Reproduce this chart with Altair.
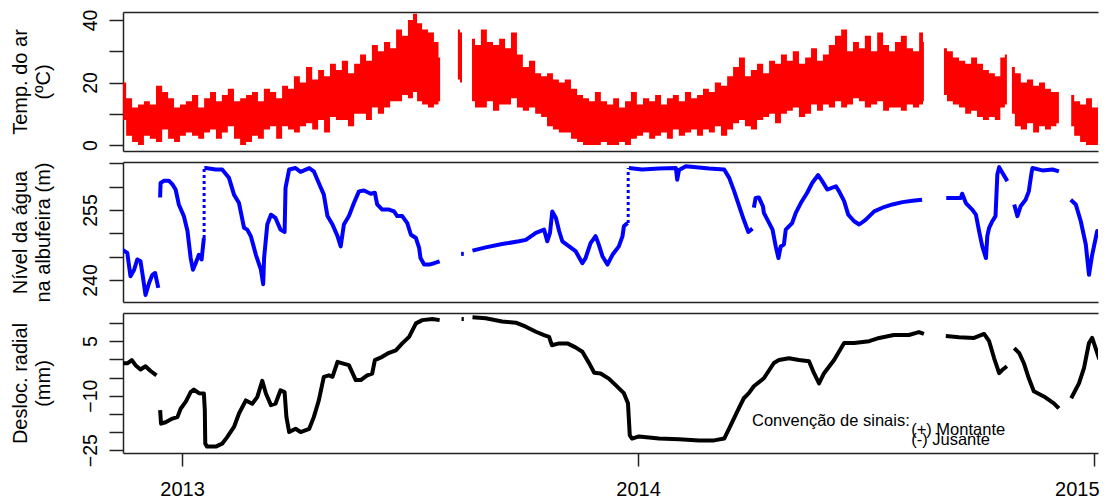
import altair as alt
import pandas as pd

FONT = "Liberation Sans"

# ---------------- data (time in decimal years) ----------------
temp_year = [2012.871, 2012.884, 2012.897, 2012.910, 2012.923, 2012.936, 2012.950, 2012.963, 2012.976, 2012.989,
             2013.002, 2013.015, 2013.029, 2013.042, 2013.055, 2013.068, 2013.081, 2013.094, 2013.107, 2013.121,
             2013.134, 2013.147, 2013.160, 2013.173, 2013.186, 2013.200, 2013.213, 2013.226, 2013.239, 2013.252,
             2013.265, 2013.279, 2013.292, 2013.305, 2013.318, 2013.331, 2013.344, 2013.357, 2013.371, 2013.384,
             2013.397, 2013.410, 2013.423, 2013.436, 2013.450, 2013.463, 2013.476, 2013.489, 2013.502, 2013.511,
             2013.520, 2013.533, 2013.546, 2013.559, 2013.566,
             2013.605, 2013.614,
             2013.636, 2013.649, 2013.662, 2013.675, 2013.689, 2013.702, 2013.715, 2013.728, 2013.741, 2013.754,
             2013.768, 2013.781, 2013.794, 2013.807, 2013.820, 2013.833, 2013.846, 2013.860, 2013.873, 2013.886,
             2013.899, 2013.912, 2013.925, 2013.939, 2013.952, 2013.965, 2013.978, 2013.991, 2014.004, 2014.018,
             2014.031, 2014.044, 2014.057, 2014.070, 2014.083, 2014.096, 2014.110, 2014.123, 2014.136, 2014.149,
             2014.162, 2014.175, 2014.189, 2014.202, 2014.215, 2014.228, 2014.241, 2014.254, 2014.268, 2014.281,
             2014.294, 2014.307, 2014.320, 2014.333, 2014.346, 2014.360, 2014.373, 2014.386, 2014.399, 2014.412,
             2014.425, 2014.439, 2014.452, 2014.465, 2014.478, 2014.491, 2014.504, 2014.518, 2014.531, 2014.544,
             2014.557, 2014.570, 2014.583, 2014.596, 2014.610, 2014.623, 2014.627,
             2014.671, 2014.684, 2014.697, 2014.711, 2014.724, 2014.737, 2014.750, 2014.763, 2014.776, 2014.789,
             2014.800, 2014.809,
             2014.820, 2014.833, 2014.846, 2014.860, 2014.873, 2014.886, 2014.899, 2014.912, 2014.923,
             2014.950, 2014.963, 2014.976, 2014.989, 2015.002, 2015.015, 2015.029, 2015.044]
temp_hi = [20, 15, 12, 13, 14, 13, 19, 17, 15, 12,
           13, 14, 16, 12, 15, 17, 14, 16, 18, 14,
           15, 16, 17, 14, 18, 17, 15, 19, 18, 22,
           20, 25, 21, 24, 22, 26, 24, 27, 23, 26,
           29, 27, 32, 30, 33, 31, 37, 35, 40, 42,
           39, 37, 36, 33, 28,
           37, 36,
           34, 32, 37, 33, 32, 34, 31, 36, 29, 25,
           27, 23, 22, 23, 21, 20, 21, 18, 16, 15,
           14, 17, 14, 13, 15, 12, 14, 17, 13, 15,
           14, 16, 13, 15, 16, 14, 17, 15, 16, 18,
           17, 20, 19, 22, 25, 28, 22, 24, 26, 23,
           27, 26, 29, 27, 30, 26, 28, 31, 27, 29,
           32, 35, 37, 30, 33, 31, 35, 30, 36, 32,
           30, 33, 35, 31, 30, 36, 33,
           31, 30, 28, 27, 26, 28, 26, 24, 23, 22,
           28, 29,
           25, 23, 20, 21, 19, 20, 18, 17, 17,
           16, 14, 13, 15, 12, 14, 12, 13]
temp_lo = [8, 3, 1, 0, 3, 2, 1, 5, 2, 1,
           3, 4, 3, 2, 4, 5, 2, 4, 6, 2,
           0, 1, 3, 2, 5, 6, 2, 6, 5, 4,
           6, 7, 5, 8, 4, 9, 8, 8, 6, 10,
           10, 8, 12, 10, 12, 14, 14, 16, 15, 17,
           14, 13, 12, 13, 14,
           21, 20,
           14, 12, 12, 14, 11, 13, 13, 15, 12, 11,
           12, 10, 9, 6, 5, 4, 4, 2, 1, 0,
           0, 0, 1, 0, 0, 1, 0, 2, 3, 4,
           2, 3, 4, 2, 5, 3, 4, 5, 3, 5,
           4, 6, 3, 5, 7, 8, 6, 5, 8, 9,
           10, 7, 10, 11, 12, 9, 10, 13, 11, 13,
           12, 14, 12, 13, 15, 14, 12, 13, 14, 11,
           12, 12, 11, 13, 12, 13, 14,
           16, 14, 13, 12, 10, 11, 9, 8, 9, 8,
           12, 13,
           10, 6, 5, 7, 4, 6, 5, 6, 7,
           6, 3, 1, 0, 0, 1, 0, 1]
temp_breaks = [2013.590, 2013.625, 2014.650, 2014.8145, 2014.940]

lev_year = [2012.869, 2012.880, 2012.887, 2012.895, 2012.902, 2012.909, 2012.913, 2012.920, 2012.928, 2012.935,
            2012.941, 2012.948,
            2012.952, 2012.953, 2012.961, 2012.971, 2012.979, 2012.986, 2012.993, 2013.004, 2013.012, 2013.019,
            2013.024, 2013.030, 2013.037, 2013.043, 2013.048, 2013.049, 2013.052, 2013.074, 2013.088, 2013.103,
            2013.114, 2013.125, 2013.136, 2013.143, 2013.151, 2013.162, 2013.173, 2013.178, 2013.180, 2013.187,
            2013.195, 2013.205, 2013.216, 2013.225, 2013.227, 2013.235, 2013.249, 2013.260, 2013.279, 2013.289,
            2013.300, 2013.311, 2013.319, 2013.330, 2013.341, 2013.348, 2013.355, 2013.366, 2013.377, 2013.388,
            2013.399, 2013.414, 2013.423, 2013.428, 2013.439, 2013.454, 2013.465, 2013.472, 2013.483, 2013.494,
            2013.502, 2013.513, 2013.520, 2013.523, 2013.531, 2013.542, 2013.553, 2013.565,
            2013.612, 2013.618,
            2013.637, 2013.666, 2013.702, 2013.739, 2013.754, 2013.776, 2013.794, 2013.801, 2013.807, 2013.812,
            2013.820, 2013.827, 2013.834, 2013.849, 2013.863, 2013.878, 2013.885, 2013.896, 2013.907, 2013.914,
            2013.922, 2013.933, 2013.944, 2013.958, 2013.966, 2013.969, 2013.977, 2013.980, 2014.009,
            2014.046, 2014.083, 2014.086, 2014.090, 2014.105, 2014.156, 2014.189, 2014.200, 2014.211, 2014.222,
            2014.232, 2014.242, 2014.251,
            2014.254, 2014.258, 2014.265, 2014.274, 2014.276, 2014.284, 2014.295, 2014.302, 2014.308, 2014.313,
            2014.320, 2014.324, 2014.338, 2014.346, 2014.357, 2014.371, 2014.382, 2014.395, 2014.404, 2014.415,
            2014.434, 2014.441, 2014.452, 2014.461, 2014.474, 2014.485, 2014.499, 2014.518, 2014.536, 2014.558,
            2014.580, 2014.602, 2014.623,
            2014.676, 2014.708, 2014.711, 2014.719, 2014.733, 2014.741, 2014.748, 2014.755, 2014.763, 2014.766,
            2014.770, 2014.777, 2014.784, 2014.788, 2014.792, 2014.799, 2014.810,
            2014.825, 2014.832, 2014.839, 2014.850, 2014.857, 2014.863, 2014.865, 2014.887, 2014.909, 2014.923,
            2014.949, 2014.960, 2014.971, 2014.982, 2014.989, 2014.996, 2015.007, 2015.018, 2015.029, 2015.033,
            2015.045]
lev_val = [246.5, 245.8, 240.8, 242.2, 244.4, 244.0, 241.5, 236.8, 239.4, 241.1,
           241.5, 238.3,
           257.7, 260.8, 261.3, 261.3, 260.5, 259.4, 256.2, 253.7, 250.5, 244.7,
           242.2, 243.6, 245.4, 244.4, 249.0, 264.0, 264.0, 263.7, 263.7, 261.9,
           258.3, 256.5, 251.2, 250.8, 249.4, 245.4, 242.2, 239.1, 244.7, 251.9,
           254.0, 253.3, 250.8, 250.3, 259.7, 263.7, 264.0, 263.2, 264.0, 263.3,
           260.8, 258.3, 253.7, 251.9, 249.4, 247.2, 251.9, 253.7, 256.5, 259.0,
           259.2, 258.5, 258.7, 256.2, 255.1, 255.1, 254.7, 253.7, 253.7, 252.2,
           249.7, 249.0, 246.9, 244.7, 243.3, 243.3, 243.6, 244.0,
           245.6, 245.6,
           246.3, 247.0, 247.7, 248.3, 248.6, 250.1, 250.8, 248.3, 250.1, 254.7,
           253.3, 250.5, 248.3, 247.2, 246.2, 243.6, 244.7, 247.9, 249.4, 247.6,
           245.1, 243.3, 245.4, 247.2, 249.4, 251.5, 252.2, 264.0, 263.7,
           263.9, 264.0, 261.5, 263.6, 264.4, 263.9, 263.7, 261.9, 259.0, 255.8,
           252.9, 250.3, 251.0,
           255.5, 257.6, 257.7, 255.8, 254.4, 252.9, 250.8, 247.2, 244.7, 247.2,
           247.6, 250.8, 252.2, 254.4, 256.5, 258.7, 260.8, 262.5, 261.2, 259.4,
           260.1, 259.0, 256.9, 254.0, 252.6, 251.9, 252.9, 254.7, 255.5, 256.2,
           256.7, 257.0, 257.2,
           257.6, 257.6, 258.5, 256.5, 255.1, 254.0, 250.5, 247.2, 244.7, 249.4,
           251.2, 252.6, 253.7, 262.6, 264.2, 263.0, 261.2,
           256.2, 253.7, 255.8, 257.2, 259.0, 263.0, 264.0, 263.5, 263.7, 263.3,
           257.2, 256.2, 252.6, 247.6, 241.1, 245.4, 250.5, 248.3, 244.7, 243.3,
           244.0]
lev_breaks = [2012.950, 2013.0485, 2013.590, 2013.630, 2013.9785, 2014.2525, 2014.650, 2014.818, 2014.940]

# fast filling episodes drawn as sparse (dotted) points in the original
jump_year = [2013.0485, 2013.9785]
jump_lo = [249.0, 252.2]
jump_hi = [264.0, 264.0]

dsp_year = [2012.869, 2012.880, 2012.890, 2012.898, 2012.909, 2012.920, 2012.931, 2012.944,
            2012.952, 2012.954, 2012.964, 2012.979, 2012.990, 2012.997, 2013.008, 2013.019, 2013.026, 2013.037,
            2013.048, 2013.050, 2013.051, 2013.055, 2013.074, 2013.088, 2013.099, 2013.114, 2013.125, 2013.140,
            2013.154, 2013.165, 2013.176, 2013.184, 2013.195, 2013.205, 2013.216, 2013.225, 2013.229, 2013.235,
            2013.249, 2013.260, 2013.279, 2013.289, 2013.300, 2013.311, 2013.322, 2013.330, 2013.341, 2013.352,
            2013.366, 2013.381, 2013.392, 2013.406, 2013.417, 2013.423, 2013.439, 2013.454, 2013.469, 2013.483,
            2013.498, 2013.513, 2013.527, 2013.549, 2013.565,
            2013.613, 2013.618,
            2013.637, 2013.666, 2013.702, 2013.732, 2013.754, 2013.776, 2013.794, 2013.805, 2013.811, 2013.827,
            2013.845, 2013.863, 2013.878, 2013.893, 2013.904, 2013.918, 2013.936, 2013.951, 2013.969, 2013.978,
            2013.982, 2013.987, 2014.002, 2014.046, 2014.090, 2014.134, 2014.167, 2014.189, 2014.200, 2014.221,
            2014.232, 2014.243, 2014.254, 2014.276, 2014.298, 2014.309, 2014.331, 2014.353, 2014.375, 2014.386,
            2014.397, 2014.408, 2014.430, 2014.452, 2014.474, 2014.507, 2014.529, 2014.561, 2014.594, 2014.616,
            2014.627,
            2014.675, 2014.704, 2014.737, 2014.759, 2014.770, 2014.781, 2014.792, 2014.798, 2014.809,
            2014.825, 2014.836, 2014.846, 2014.857, 2014.868, 2014.890, 2014.912, 2014.923,
            2014.950, 2014.967, 2014.978, 2014.989, 2014.996, 2015.011, 2015.022, 2015.037]
dsp_val = [-1.1, -1.1, -0.2, -1.6, -2.8, -1.9, -3.2, -4.4,
           -14.0, -17.7, -17.3, -16.3, -15.9, -13.6, -11.7, -9.0, -8.3, -9.3,
           -9.4, -14.0, -23.2, -24.0, -24.0, -23.2, -21.4, -18.6, -14.9, -11.3,
           -12.2, -10.4, -5.9, -9.4, -12.6, -12.2, -8.5, -9.0, -15.9, -20.0,
           -19.1, -20.0, -19.1, -15.9, -11.3, -4.8, -4.4, -4.8, -0.7, -1.1,
           -1.6, -5.7, -5.7, -4.4, -3.9, -0.2, 0.7, 1.8, 2.5, 4.4,
           6.2, 9.9, 10.8, 11.1, 10.8,
           11.1, 11.1,
           11.6, 11.3, 10.4, 10.1, 9.0, 7.6, 6.7, 6.2, 3.9, 4.4,
           4.4, 3.3, 2.1, -1.1, -3.7, -3.9, -5.3, -7.1, -9.3, -12.1,
           -20.9, -21.8, -21.2, -21.8, -22.0, -22.3, -22.3, -21.8, -19.0, -13.5,
           -10.7, -9.3, -7.4, -5.2, -1.0, -0.2, 0.3, -0.2, -0.5, -3.8,
           -6.6, -3.8, -0.2, 4.5, 4.5, 5.0, 5.9, 6.7, 6.7, 7.5,
           7.0,
           6.4, 6.1, 5.9, 7.0, 5.0, 0.3, -3.8, -3.0, -1.9,
           3.1, 1.7, -1.0, -5.2, -8.8, -10.2, -12.1, -13.5,
           -10.7, -6.6, -2.4, 4.5, 5.9, 0.3, 1.2, 1.7]
dsp_breaks = [2012.950, 2013.590, 2013.630, 2014.650, 2014.818, 2014.940]

note_year = [2014.250, 2014.599, 2014.599]
note_val = [-18.45, -20.9, -23.7]
note_text = ["Convenção de sinais:", "(+) Montante", "(-) Jusante"]


def seg_of(years, breaks):
    return [sum(1 for b in breaks if y > b) for y in years]


df_t = pd.DataFrame({"ano": temp_year, "hi": temp_hi, "lo": temp_lo,
                     "seg": seg_of(temp_year, temp_breaks)})
df_l = pd.DataFrame({"ano": lev_year, "nivel": lev_val, "seg": seg_of(lev_year, lev_breaks)})
df_l["ordem"] = range(len(df_l))
df_j = pd.DataFrame({"ano": jump_year, "nivel": jump_lo, "hi": jump_hi})
df_d = pd.DataFrame({"ano": dsp_year, "desl": dsp_val, "seg": seg_of(dsp_year, dsp_breaks)})
df_d["ordem"] = range(len(df_d))
df_n = pd.DataFrame({"ano": note_year, "desl": note_val, "txt": note_text})

# ---------------- layout ----------------
X0 = 2012.8706
W = 975
X1 = X0 + W / 456.0
BORDER = "#222222"
xs = alt.Scale(domain=[X0, X1], nice=False, zero=False)


def yaxis(values, expr, title):
    return alt.Axis(values=values, labelExpr=expr, title=title,
                    labelAngle=270, labelAlign="center", labelBaseline="alphabetic",
                    labelPadding=12.5, tickSize=14, titleX=-97, titleAngle=270,
                    titleBaseline="alphabetic", titleLineHeight=23, labelOverlap=False,
                    domain=True, domainColor=BORDER, domainWidth=1.5)


plain_bottom = alt.Axis(orient="bottom", labels=False, ticks=False, title=None,
                        domain=True, domainColor=BORDER, domainWidth=1.5)
plain_top = alt.Axis(orient="top", labels=False, ticks=False, title=None,
                     domain=True, domainColor=BORDER, domainWidth=1.5)


def top_border(df):
    return alt.Chart(df).mark_rule(opacity=0, clip=True).encode(
        x=alt.X("ano:Q", scale=xs, axis=plain_top))


t_axis = yaxis([0, 10, 20, 30, 40], "datum.value % 20 == 0 ? datum.label : ''", ["Temp. do ar", "(ºC)"])
l_axis = yaxis([240, 245, 250, 255, 260, 265], "(datum.value - 240) % 15 == 0 ? datum.label : ''",
               ["Nível da água", "na albufeira (m)"])
d_axis = yaxis([-25, -20, -15, -10, -5, 0, 5, 10], "(datum.value + 25) % 15 == 0 ? datum.label : ''",
               ["Desloc. radial", "(mm)"])

t_scale = alt.Scale(domain=[-1.92, 42.56], nice=False, zero=False)
l_scale = alt.Scale(domain=[235.28, 265.3], nice=False, zero=False)
d_scale = alt.Scale(domain=[-25.77, 12.76], nice=False, zero=False)

top_area = alt.Chart(df_t).mark_area(color="#ff0000", clip=True, interpolate="step").encode(
    x=alt.X("ano:Q", scale=xs, axis=plain_bottom),
    y=alt.Y("lo:Q", scale=t_scale, axis=t_axis),
    y2="hi:Q",
    detail="seg:N",
)
top = alt.layer(top_area, top_border(df_t)).resolve_axis(x="independent").properties(width=W, height=139)

mid_line = alt.Chart(df_l).mark_line(color="#0000ff", strokeWidth=4, clip=True, strokeJoin="round").encode(
    x=alt.X("ano:Q", scale=xs, axis=plain_bottom),
    y=alt.Y("nivel:Q", scale=l_scale, axis=l_axis),
    detail="seg:N",
    order="ordem:Q",
)
mid_jump = alt.Chart(df_j).mark_rule(color="#0000ff", strokeWidth=3, strokeDash=[3, 3], clip=True).encode(
    x=alt.X("ano:Q", scale=xs, axis=None),
    y=alt.Y("nivel:Q", scale=l_scale, axis=l_axis),
    y2="hi:Q",
)
mid = alt.layer(mid_line, mid_jump, top_border(df_l)).resolve_axis(x="independent").properties(width=W, height=140)

bot_line = alt.Chart(df_d).mark_line(color="#000000", strokeWidth=4, clip=True, strokeJoin="round").encode(
    x=alt.X("ano:Q", scale=xs,
            axis=alt.Axis(orient="bottom", values=[2013, 2014, 2015], format="d", title=None, labelAngle=0,
                          tickSize=13, labelPadding=13, labelBaseline="top", labelFontSize=20,
                          labelFlush=10, labelFlushOffset=5, labelOverlap=False,
                          domain=True, domainColor=BORDER, domainWidth=1.5)),
    y=alt.Y("desl:Q", scale=d_scale, axis=d_axis),
    detail="seg:N",
    order="ordem:Q",
)
bot_text = alt.Chart(df_n).mark_text(align="left", baseline="alphabetic", font=FONT,
                                     fontSize=16.5, color="#000000").encode(
    x=alt.X("ano:Q", scale=xs, axis=None),
    y=alt.Y("desl:Q", scale=d_scale, axis=d_axis),
    text="txt:N")
bot = alt.layer(bot_line, bot_text, top_border(df_d)).resolve_axis(x="independent").properties(width=W, height=140)

chart = alt.vconcat(top, mid, bot, spacing=11, bounds="flush").configure_view(
    stroke=None
).configure_axis(
    labelFont=FONT, titleFont=FONT, labelFontSize=19.5, titleFontSize=20,
    labelColor="#000000", titleColor="#000000", tickColor=BORDER, tickWidth=1.5,
    domain=False, grid=False, titleFontWeight="normal"
).properties(padding={"left": 2, "top": 1, "right": 0, "bottom": 0}, background="white")

chart.save("out.html", embed_options={"renderer": "svg", "actions": False})
